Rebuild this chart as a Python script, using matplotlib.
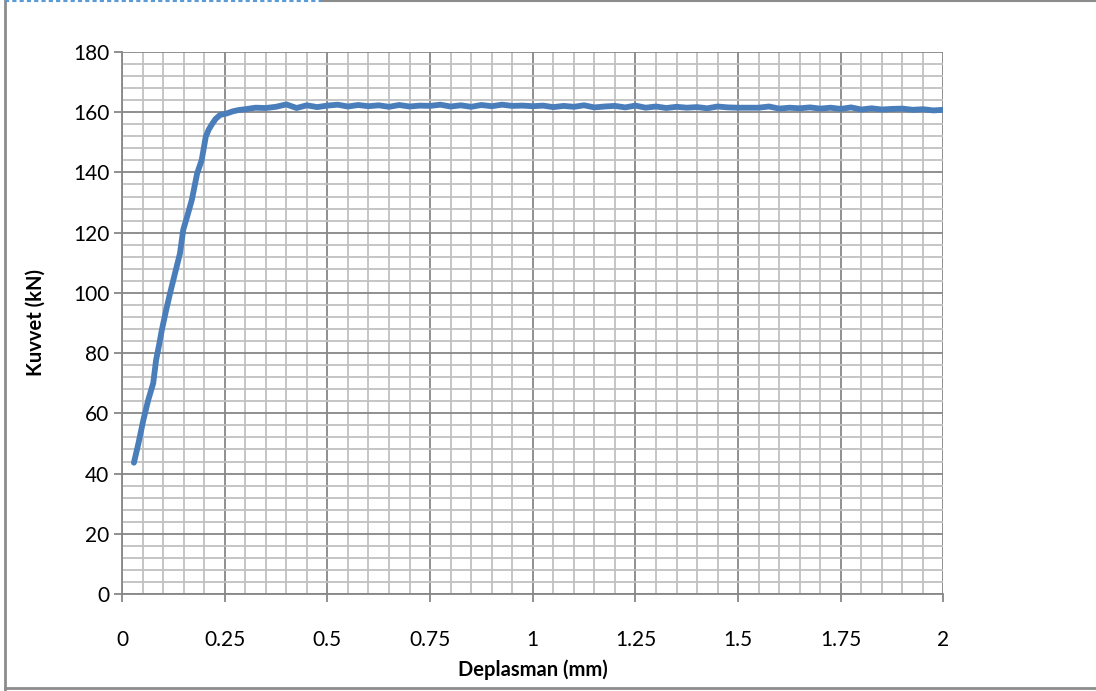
import matplotlib
matplotlib.use("Agg")
import matplotlib.pyplot as plt
from matplotlib.lines import Line2D
from matplotlib.ticker import MultipleLocator

plt.rcParams['font.family'] = ['Lato', 'DejaVu Sans']

# Rising part of the curve
rise_x = [0.029, 0.040, 0.052, 0.064, 0.076, 0.083, 0.090, 0.097, 0.107, 0.117,
          0.129, 0.141, 0.149, 0.160, 0.170, 0.183, 0.194, 0.204, 0.211, 0.218,
          0.228, 0.239, 0.255, 0.270, 0.283]
rise_y = [43.6, 50.0, 57.8, 64.5, 70.0, 77.7, 82.5, 87.7, 94.0, 99.9,
          106.5, 113.0, 120.9, 126.0, 130.9, 139.7, 144.1, 151.9, 154.2, 155.8,
          157.8, 159.1, 159.6, 160.3, 160.7]

# Plateau part of the curve
plateau_x = [0.300, 0.325, 0.350, 0.375, 0.400, 0.425, 0.450, 0.475, 0.500, 0.525,
             0.550, 0.575, 0.600, 0.625, 0.650, 0.675, 0.700, 0.725, 0.750, 0.775,
             0.800, 0.825, 0.850, 0.875, 0.900, 0.925, 0.950, 0.975, 1.000, 1.025,
             1.050, 1.075, 1.100, 1.125, 1.150, 1.175, 1.200, 1.225, 1.250, 1.275,
             1.300, 1.325, 1.350, 1.375, 1.400, 1.425, 1.450, 1.475, 1.500, 1.525,
             1.550, 1.575, 1.600, 1.625, 1.650, 1.675, 1.700, 1.725, 1.750, 1.775,
             1.800, 1.825, 1.850, 1.875, 1.900, 1.925, 1.950, 1.975, 2.000]
plateau_y = [161.0, 161.5, 161.4, 161.8, 162.6, 161.4, 162.3, 161.7, 162.2, 162.5,
             161.9, 162.4, 162.0, 162.3, 161.8, 162.4, 161.9, 162.2, 162.1, 162.5,
             161.9, 162.3, 161.8, 162.4, 162.0, 162.5, 162.1, 162.2, 162.0, 162.2,
             161.7, 162.1, 161.8, 162.3, 161.6, 161.9, 162.1, 161.6, 162.2, 161.5,
             161.9, 161.4, 161.8, 161.5, 161.7, 161.3, 161.9, 161.6, 161.5, 161.5,
             161.5, 161.9, 161.2, 161.5, 161.3, 161.6, 161.2, 161.5, 161.1, 161.6,
             160.9, 161.3, 160.9, 161.1, 161.2, 160.8, 161.0, 160.6, 160.8]

x_ticks = [0, 0.25, 0.5, 0.75, 1, 1.25, 1.5, 1.75, 2]
x_tick_labels = ['0', '0.25', '0.5', '0.75', '1', '1.25', '1.5', '1.75', '2']
y_ticks = [0, 20, 40, 60, 80, 100, 120, 140, 160, 180]

xs = rise_x + plateau_x
ys = rise_y + plateau_y

fig = plt.figure(figsize=(10.96, 6.91), dpi=100)
ax = fig.add_axes([122/1096, 1-594/691, (943.5-122)/1096, (594-52)/691])

ax.set_xlim(0, 2)
ax.set_ylim(0, 180)
ax.xaxis.set_minor_locator(MultipleLocator(0.05))
ax.yaxis.set_minor_locator(MultipleLocator(4))
ax.set_xticks(x_ticks)
ax.set_xticklabels(x_tick_labels)
ax.set_yticks(y_ticks)

ax.grid(which='minor', color='#C0C0C0', linewidth=1.3, zorder=0)
ax.grid(which='major', color='#878787', linewidth=1.3, zorder=1)
ax.set_axisbelow(True)

for s in ['top', 'right']:
    ax.spines[s].set_visible(False)
for s in ['left', 'bottom']:
    ax.spines[s].set_color('#878787')
    ax.spines[s].set_linewidth(1.3)

ax.tick_params(which='major', direction='out', length=6, width=1.3, color='#878787',
               labelsize=15, labelcolor='black')
ax.tick_params(which='minor', length=0)
ax.tick_params(axis='y', pad=3)
ax.tick_params(axis='x', pad=20)

ax.plot(xs, ys, color='#4A7EBB', linewidth=4.2, solid_capstyle='round',
        solid_joinstyle='round', zorder=3)

ax.set_xlabel('Deplasman (mm)', fontsize=14.5, fontweight='bold', labelpad=7)
ax.set_ylabel('Kuvvet (kN)', fontsize=14.5, fontweight='bold', labelpad=20)

# Outer chart border
fig.add_artist(Line2D([5/1096, 5/1096], [0, 1], color='#8C8C8C', linewidth=2,
                      transform=fig.transFigure))
fig.add_artist(Line2D([5/1096, 1], [3/691, 3/691], color='#8C8C8C', linewidth=2,
                      transform=fig.transFigure))
fig.add_artist(Line2D([322/1096, 1], [1-0.5/691, 1-0.5/691], color='#8C8C8C', linewidth=1.5,
                      transform=fig.transFigure))
fig.add_artist(Line2D([5/1096, 322/1096], [1-0.5/691, 1-0.5/691], color='#5B9BD5', linewidth=1.5,
                      linestyle=(0, (2, 1.5)), transform=fig.transFigure))

fig.savefig('out.png', dpi=100)
